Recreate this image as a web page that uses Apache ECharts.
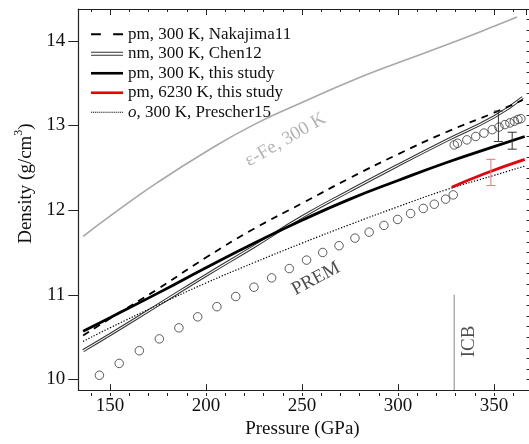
<!DOCTYPE html>
<html>
<head>
<meta charset="utf-8">
<script src="https://cdn.jsdelivr.net/npm/echarts@6/dist/echarts.min.js"></script>
<style>
  html, body { margin: 0; padding: 0; background: #fff; }
  #chart { width: 529px; height: 444px; }
</style>
</head>
<body>
<div id="chart"></div>
<script>
// values
const epsP = [136, 150, 175, 200, 225, 250, 275, 300, 325, 350, 362];
const epsD = [11.69, 11.93, 12.33, 12.69, 13.01, 13.27, 13.52, 13.74, 13.95, 14.17, 14.28];

const nakP = [136, 150, 175, 200, 225, 250, 275, 300, 325, 350, 365];
const nakD = [10.52, 10.72, 11.07, 11.44, 11.78, 12.08, 12.38, 12.66, 12.92, 13.15, 13.3];

const chenP = [136, 150, 175, 200, 225, 250, 275, 300, 325, 350, 365];
const chenD = [10.34, 10.53, 10.88, 11.23, 11.57, 11.92, 12.23, 12.53, 12.82, 13.1, 13.33];

const thisP = [136, 150, 175, 200, 225, 250, 275, 300, 325, 350, 366];
const thisD = [10.57, 10.73, 11.02, 11.32, 11.61, 11.88, 12.13, 12.35, 12.56, 12.75, 12.87];

const hotP = [328, 345, 366];
const hotD = [12.27, 12.43, 12.6];

const presP = [136, 150, 175, 200, 225, 250, 275, 300, 325, 350, 366];
const presD = [10.45, 10.61, 10.88, 11.14, 11.38, 11.61, 11.83, 12.04, 12.24, 12.41, 12.52];

const premP = [144.5, 154.8, 165.3, 175.7, 185.9, 195.7, 205.7, 215.5, 225, 234.2, 243.4, 252.4,
  260.8, 269.3, 277.6, 285, 292.7, 299.8, 306.6, 313.2, 318.9, 324.8, 328.8,
  329.3, 331, 335.9, 340.5, 344.8, 349.1, 352.6, 355.7, 358.3, 360.6, 362.5, 364];
const premD = [10.05, 10.19, 10.34, 10.48, 10.61, 10.74, 10.86, 10.98, 11.09, 11.2, 11.31, 11.41,
  11.5, 11.58, 11.67, 11.74, 11.82, 11.89, 11.96, 12.02, 12.07, 12.13, 12.18,
  12.77, 12.79, 12.83, 12.87, 12.91, 12.95, 12.98, 13.01, 13.03, 13.05, 13.07, 13.08];

const errP = [352.3, 359.5];
const errLo = [12.81, 12.72];
const errHi = [13.17, 12.92];

const hotErrP = [348.4];
const hotErrLo = [12.29];
const hotErrHi = [12.6];

const icbP = [329.3, 329.3];
const icbD = [9.875, 11.0];

const names = [
  'pm, 300 K, Nakajima11',
  'nm, 300 K, Chen12',
  'pm, 300 K, this study',
  'pm, 6230 K, this study',
  'o, 300 K, Prescher15'
];

const zip = (a, b) => a.map((v, i) => [v, b[i]]);
const serif = 'Liberation Serif';

// main grid
const xMin = 133.5, xMax = 367, gLeft = 78.3, gRight = 2.4, gTop = 9, gBottom = 48;
const pxPerP = (529 - gLeft - gRight) / (xMax - xMin);
// grid used only for 10 GPa minor ticks (min must be a multiple of 10)
const mMin = 140, mMax = 360;
const mLeft = gLeft + (mMin - xMin) * pxPerP;
const mRight = 529 - (gLeft + (mMax - xMin) * pxPerP);

// legend icons
let dots = '';
for (let i = 0; i < 16; i++) dots += 'M' + (2 * i) + ',0h1.1v1.2h-1.1Z ';
const icons = {
  dash: 'path://M0,0H8V1.6H0Z M18,0H26V1.6H18Z',
  dbl: 'path://M0,0H32V1.1H0Z M0,2.9H32V4H0Z',
  solid: 'path://M0,0H32V2.6H0Z',
  dot: 'path://' + dots
};

const chart = echarts.init(document.getElementById('chart'));

function errBar(color) {
  return function (params, api) {
    const x = api.value(0);
    const lo = api.coord([x, api.value(1)]);
    const hi = api.coord([x, api.value(2)]);
    const w = 4.5;
    const st = { stroke: color, lineWidth: 1 };
    return {
      type: 'group',
      children: [
        { type: 'line', shape: { x1: lo[0], y1: lo[1], x2: hi[0], y2: hi[1] }, style: st },
        { type: 'line', shape: { x1: lo[0] - w, y1: lo[1], x2: lo[0] + w, y2: lo[1] }, style: st },
        { type: 'line', shape: { x1: hi[0] - w, y1: hi[1], x2: hi[0] + w, y2: hi[1] }, style: st }
      ]
    };
  };
}

function anno(p, d, text, rot, color) {
  return {
    type: 'scatter', data: [[p, d]], symbolSize: 0, silent: true, z: 5,
    label: {
      show: true, position: 'inside', rotate: rot, formatter: text,
      fontFamily: serif, fontSize: 19, color: color
    }
  };
}

chart.setOption({
  animation: false,
  grid: [
    { left: gLeft, right: gRight, top: gTop, bottom: gBottom },
    { left: mLeft, right: mRight, top: gTop, bottom: gBottom }
  ],
  legend: {
    left: 91, top: 24.5, padding: 0, orient: 'vertical',
    itemWidth: 32, itemHeight: 10, itemGap: 0,
    textStyle: {
      fontFamily: serif, fontSize: 17, color: '#111', lineHeight: 19.5,
      rich: { it: { fontFamily: serif, fontSize: 17, fontStyle: 'italic', color: '#111' } }
    },
    formatter: n => n.startsWith('o,') ? '{it|o}' + n.slice(1) : n,
    data: [
      { name: names[0], icon: icons.dash },
      { name: names[1], icon: icons.dbl },
      { name: names[2], icon: icons.solid },
      { name: names[3], icon: icons.solid },
      { name: names[4], icon: icons.dot }
    ]
  },
  xAxis: [
    {
      type: 'value', gridIndex: 0, min: xMin, max: xMax, position: 'bottom',
      name: 'Pressure (GPa)', nameLocation: 'middle', nameGap: 28,
      nameTextStyle: { fontFamily: serif, fontSize: 19, color: '#111' },
      axisLine: { lineStyle: { color: '#222', width: 1.2 } },
      axisTick: { inside: true, length: 6, lineStyle: { color: '#222' } },
      axisLabel: { fontFamily: serif, fontSize: 19, color: '#111', margin: 6, showMinLabel: false, showMaxLabel: false },
      splitLine: { show: false }
    },
    {
      type: 'value', gridIndex: 0, min: xMin, max: xMax, position: 'top',
      axisLine: { lineStyle: { color: '#222', width: 1.2 } },
      axisTick: { inside: true, length: 6, lineStyle: { color: '#222' } },
      axisLabel: { show: false }, splitLine: { show: false }
    },
    {
      type: 'value', gridIndex: 1, min: mMin, max: mMax, interval: 10, position: 'bottom',
      axisLine: { show: false },
      axisTick: { inside: true, length: 3, lineStyle: { color: '#222' } },
      axisLabel: { show: false }, splitLine: { show: false }
    },
    {
      type: 'value', gridIndex: 1, min: mMin, max: mMax, interval: 10, position: 'top',
      axisLine: { show: false },
      axisTick: { inside: true, length: 3, lineStyle: { color: '#222' } },
      axisLabel: { show: false }, splitLine: { show: false }
    }
  ],
  yAxis: [
    {
      type: 'value', gridIndex: 0, min: 9.875, max: 14.375, splitNumber: 5,
      name: 'Density (g/cm{sup|3})', nameLocation: 'middle', nameGap: 38,
      nameTextStyle: {
        fontFamily: serif, fontSize: 19, color: '#111', padding: [0, 0, 0, 32],
        rich: { sup: { fontFamily: serif, fontSize: 12, color: '#111', padding: [0, 0, 14, 0] } }
      },
      axisLine: { lineStyle: { color: '#222', width: 1.2 } },
      axisTick: { length: 10, lineStyle: { color: '#222' } },
      axisLabel: { fontFamily: serif, fontSize: 19, color: '#111', margin: 13, showMinLabel: false, showMaxLabel: false },
      splitLine: { show: false }
    },
    {
      type: 'value', gridIndex: 0, min: 9.875, max: 14.375, interval: 0.125,
      axisLine: { show: false },
      axisTick: { length: 4, lineStyle: { color: '#222' } },
      axisLabel: { show: false }, splitLine: { show: false }
    },
    {
      type: 'value', gridIndex: 1, min: 9.875, max: 14.375, show: false
    }
  ],
  series: [
    {
      type: 'line', data: zip(epsP, epsD), smooth: true, symbol: 'none',
      lineStyle: { color: '#a8a8a8', width: 1.6 }, silent: true
    },
    {
      name: names[1], type: 'line', data: zip(chenP, chenD), smooth: true, symbol: 'none',
      itemStyle: { color: '#333' }, lineStyle: { color: '#333', width: 3.2 }
    },
    {
      type: 'line', data: zip(chenP, chenD), smooth: true, symbol: 'none',
      lineStyle: { color: '#fff', width: 1.1 }, silent: true
    },
    {
      name: names[0], type: 'line', data: zip(nakP, nakD), smooth: true, symbol: 'none',
      itemStyle: { color: '#000' }, lineStyle: { color: '#000', width: 1.8, type: [7, 6] }
    },
    {
      name: names[4], type: 'line', data: zip(presP, presD), smooth: true, symbol: 'none',
      itemStyle: { color: '#000' }, lineStyle: { color: '#000', width: 1.2, type: [1.3, 1.7] }
    },
    {
      name: names[2], type: 'line', data: zip(thisP, thisD), smooth: true, symbol: 'none',
      itemStyle: { color: '#000' }, lineStyle: { color: '#000', width: 2.8 }
    },
    {
      name: names[3], type: 'line', data: zip(hotP, hotD), smooth: true, symbol: 'none',
      itemStyle: { color: '#e8000b' }, lineStyle: { color: '#e8000b', width: 2.8 }
    },
    {
      type: 'line', data: zip(icbP, icbD), symbol: 'none',
      lineStyle: { color: '#9a9a9a', width: 1.2 }, silent: true
    },
    {
      type: 'scatter', data: zip(premP, premD), symbol: 'circle', symbolSize: 8.5,
      itemStyle: { color: 'rgba(0,0,0,0)', borderColor: '#333', borderWidth: 1 }, silent: true
    },
    {
      type: 'custom', data: errP.map((p, i) => [p, errLo[i], errHi[i]]),
      renderItem: errBar('#333'), silent: true, z: 4
    },
    {
      type: 'custom', data: hotErrP.map((p, i) => [p, hotErrLo[i], hotErrHi[i]]),
      renderItem: errBar('#f07070'), silent: true, z: 4
    },
    anno(241.4, 12.83, 'ε-Fe, 300 K', 30, '#a0a0a0'),
    anno(257.3, 11.19, 'PREM', 28, '#222'),
    anno(337, 10.45, 'ICB', 90, '#222')
  ]
});
</script>
</body>
</html>
